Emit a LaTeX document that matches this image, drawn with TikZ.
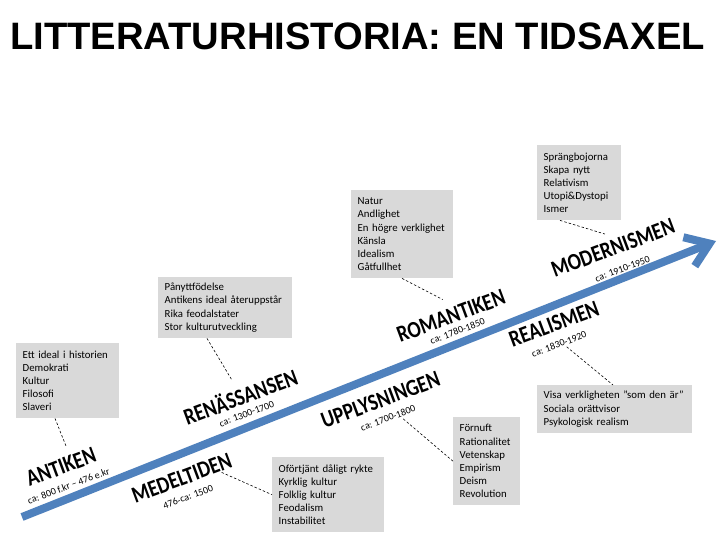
\documentclass[tikz,border=0pt]{standalone}
\usepackage{fontspec}
\setmainfont{Carlito}
\newfontfamily\titlefont{Liberation Sans}
\usetikzlibrary{arrows.meta,calc}
\definecolor{axisblue}{HTML}{4F81BD}
\definecolor{boxgray}{HTML}{D9D9D9}
\hyphenpenalty=10000
\exhyphenpenalty=10000
\newcommand\erastretch[1]{\scalebox{1}[1.2]{#1}}
\tikzset{
  infobox/.style={fill=boxgray, anchor=north west, inner xsep=6.5pt, inner ysep=0pt,
    align=left, font=\fontsize{10.8}{13.2}\selectfont},
  era/.style={font=\bfseries\fontsize{19.5}{19.5}\selectfont, rotate=20.5, inner sep=0pt},
  eradate/.style={font=\fontsize{9.9}{10}\selectfont, rotate=20.5, inner sep=0pt},
  conn/.style={black, line width=0.6pt, dash pattern=on 2.5pt off 2pt},
  timeline/.style={axisblue, line width=8pt, -{Straight Barb[length=22pt,width=31pt]}}
}
\begin{document}
\begin{tikzpicture}[x=1pt,y=-1pt]
\fill[white] (0,0) rectangle (720,540);
\useasboundingbox (0,0) rectangle (720,540);

% title
\node[font=\titlefont\bfseries\fontsize{38.2}{38}\selectfont, anchor=base, inner sep=0pt]
  (title) at (357.5,49.3) {LITTERATURHISTORIA: EN TIDSAXEL};

% time axis
\coordinate (axisstart) at (22,517);
\coordinate (axisend) at (716,241);
\draw[timeline] (axisstart) -- (axisend);

% era labels
\node[era] (antiken) at (61,467) {\erastretch{ANTIKEN}};
\node[eradate] (antikendate) at (68.5,486) {ca: 800 f.kr – 476 e.kr};
\node[era] (medeltiden) at (181.7,478) {\erastretch{MEDELTIDEN}};
\node[eradate] (medeltidendate) at (188,497) {476-ca: 1500};
\node[era] (renassansen) at (240,396) {\erastretch{RENÄSSANSEN}};
\node[eradate] (renassansendate) at (246.7,414) {ca: 1300-1700};
\node[era] (upplysningen) at (380.5,400) {\erastretch{UPPLYSNINGEN}};
\node[eradate] (upplysningendate) at (388,418) {ca: 1700-1800};
\node[era] (romantiken) at (451,316) {\erastretch{ROMANTIKEN}};
\node[eradate] (romantikendate) at (457.5,331) {ca: 1780-1850};
\node[era] (realismen) at (554,324) {\erastretch{REALISMEN}};
\node[eradate] (realismendate) at (559,344) {ca: 1830-1920};
\node[era] (modernismen) at (613,248) {\erastretch{MODERNISMEN}};
\node[eradate] (modernismendate) at (622.5,269) {ca: 1910-1950};

% info boxes
\node[infobox, text width=90pt, minimum height=75pt] (boxA) at (16,343)
  {Ett~ideal~i~historien\\Demokrati\\Kultur\\Filosofi\\Slaveri};
\node[infobox, text width=121pt, minimum height=61pt] (boxB) at (158,277)
  {Pånyttfödelse\\Antikens~ideal~återuppstår\\Rika~feodalstater\\Stor~kulturutveckling};
\node[infobox, text width=89pt, minimum height=88pt] (boxC) at (351,190)
  {Natur\\Andlighet\\En~högre~verklighet\\Känsla\\Idealism\\Gåtfullhet};
\node[infobox, text width=71pt, minimum height=75pt] (boxD) at (537,145)
  {Sprängbojorna\\Skapa~nytt\\Relativism\\Utopi\&Dystopi\\Ismer};
\node[infobox, text width=142pt, minimum height=48pt] (boxE) at (537,385)
  {Visa~verkligheten~”som~den~är”\\Sociala~orättvisor\\Psykologisk~realism};
\node[infobox, text width=54pt, minimum height=88pt] (boxF) at (453,417)
  {Förnuft\\Rationalitet\\Vetenskap\\Empirism\\Deism\\Revolution};
\node[infobox, text width=99pt, minimum height=75pt] (boxG) at (272,457)
  {Oförtjänt~dåligt~rykte\\Kyrklig~kultur\\Folklig~kultur\\Feodalism\\Instabilitet};

% dashed connectors
\draw[conn] ($(boxA.south west)+(39,0)$) -- ($(antiken.north)+(8,-13)$);
\draw[conn] ($(boxB.south west)+(49,0)$) -- ($(renassansen.north)+(-4.8,-7)$);
\draw[conn] ($(boxC.south west)+(51,0)$) -- ($(romantiken.north)+(-5.5,-9)$);
\draw[conn] ($(boxD.south west)+(23,0)$) -- ($(modernismen.north)+(-5.3,-6.5)$);
\draw[conn] ($(realismendate.south)+(6.4,-0.6)$) -- ($(boxE.north west)+(76,0)$);
\draw[conn] ($(upplysningendate.south)+(14,-2.5)$) -- (boxF.west);
\draw[conn] ($(medeltiden.south east)+(-12,5.5)$) -- (boxG.west);
\end{tikzpicture}
\end{document}
